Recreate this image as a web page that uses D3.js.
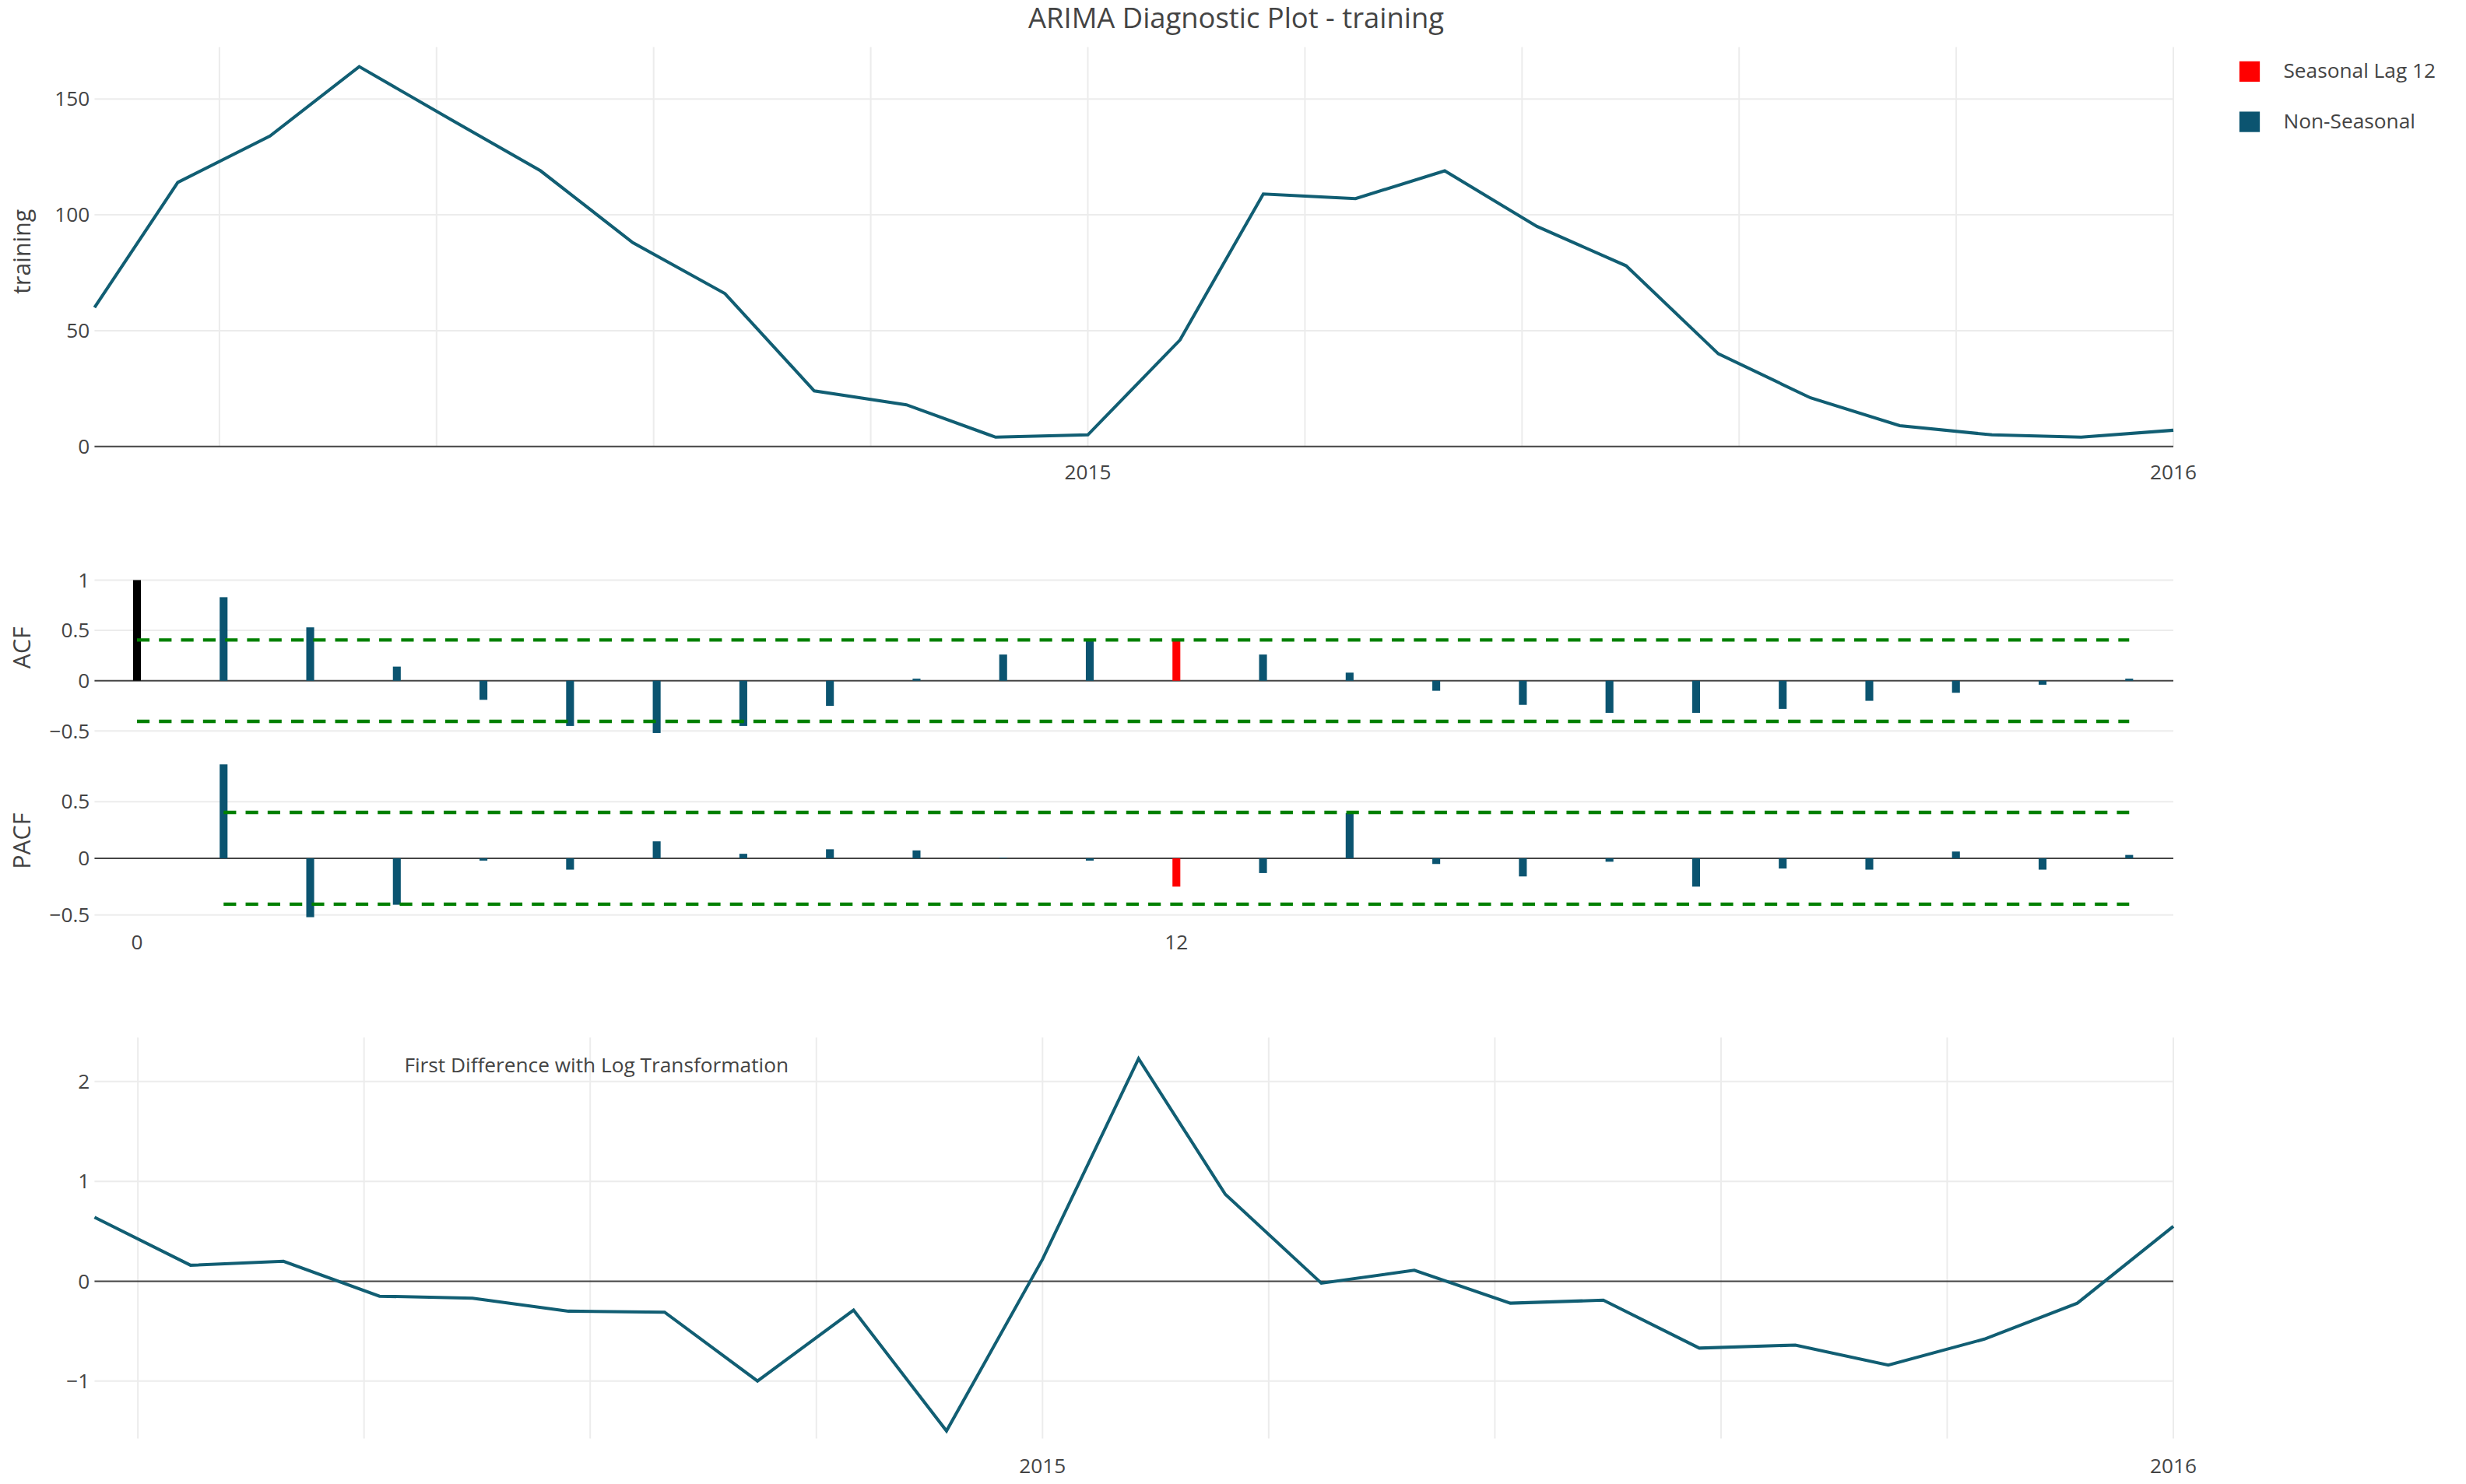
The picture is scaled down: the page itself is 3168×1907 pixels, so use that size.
<!doctype html>
<html>
<head>
<meta charset="utf-8">
<script src="https://cdn.jsdelivr.net/npm/d3@7"></script>
<style>
  body { margin: 0; background: #fff; }
  text { font-family: "Open Sans", "DejaVu Sans", sans-serif; fill: #444; }
</style>
</head>
<body>
<svg id="chart" width="3168" height="1907" viewBox="0 0 1568 944"></svg>
<script>
// data
var trainingValues = [60, 114, 134, 164, 141, 119, 88, 66, 24, 18, 4, 5,
                      46, 109, 107, 119, 95, 78, 40, 21, 9, 5, 4, 7];
var acfValues = [1, 0.83, 0.53, 0.14, -0.19, -0.45, -0.52, -0.45, -0.25, 0.02, 0.26, 0.41,
                 0.40, 0.26, 0.08, -0.10, -0.24, -0.32, -0.32, -0.28, -0.20, -0.12, -0.04, 0.02];
var pacfValues = [null, 0.83, -0.52, -0.41, -0.02, -0.10, 0.15, 0.04, 0.08, 0.07, 0.005, -0.02,
                  -0.25, -0.13, 0.40, -0.05, -0.16, -0.03, -0.25, -0.09, -0.10, 0.06, -0.10, 0.03];
var diffValues = [0.64, 0.16, 0.20, -0.15, -0.17, -0.30, -0.31, -1.0, -0.29, -1.5, 0.22, 2.23,
                  0.87, -0.02, 0.11, -0.22, -0.19, -0.67, -0.64, -0.84, -0.58, -0.22, 0.55];
var confBand = 0.405;
var seasonalLag = 12;
var legendItems = [{ label: "Seasonal Lag 12", color: "red" }, { label: "Non-Seasonal", color: "#0b5470" }];

var lineColor = "#115e73", barColor = "#0b5470", gridColor = "#ececec";
var svg = d3.select("#chart");
var left = 60, right = 1382;

var trainDates = trainingValues.map(function(d, i) { return new Date(2014, 1 + i, 1); });
var diffDates = diffValues.map(function(d, i) { return new Date(2014, 2 + i, 1); });

svg.append("text").attr("x", 786).attr("y", 18).attr("text-anchor", "middle")
  .style("font-size", "18px").text("ARIMA Diagnostic Plot - training");

function dateGrid(g, x, y0, y1, stepDays) {
  var ticks = [];
  var d = new Date(2016, 0, 1);
  while (d >= x.domain()[0]) { ticks.push(d); d = d3.timeDay.offset(d, -stepDays); }
  g.selectAll(".vg").data(ticks).enter().append("line")
    .attr("x1", x).attr("x2", x).attr("y1", y0).attr("y2", y1)
    .attr("stroke", gridColor);
}

function yAxis(g, y, ticks, fmt) {
  g.selectAll(".hg").data(ticks).enter().append("line")
    .attr("x1", left).attr("x2", right).attr("y1", y).attr("y2", y)
    .attr("stroke", d => d === 0 ? "#444" : gridColor);
  g.selectAll(".yl").data(ticks).enter().append("text")
    .attr("x", left - 3).attr("y", y).attr("dy", "0.35em").attr("text-anchor", "end")
    .style("font-size", "13px").text(fmt);
}

function yTitle(text, cy) {
  svg.append("text").attr("transform", "translate(19," + cy + ") rotate(-90)")
    .attr("text-anchor", "middle").style("font-size", "15px").text(text);
}

var minus = d => d < 0 ? "\u2212" + Math.abs(d) : String(d);

// panel 1: training series
var x1 = d3.scaleTime().domain([trainDates[0], trainDates[23]]).range([left, right]);
var y1 = d3.scaleLinear().domain([0, 150]).range([284, 63]);
var g1 = svg.append("g");
dateGrid(g1, x1, 30, 284, 73);
yAxis(g1, y1, [0, 50, 100, 150], minus);
g1.append("path").datum(trainingValues)
  .attr("d", d3.line().x((d, i) => x1(trainDates[i])).y(d => y1(d)))
  .attr("fill", "none").attr("stroke", lineColor).attr("stroke-width", 2);
[new Date(2015, 0, 1), new Date(2016, 0, 1)].forEach(function(d) {
  g1.append("text").attr("x", x1(d)).attr("y", 305).attr("text-anchor", "middle")
    .style("font-size", "13px").text(d.getFullYear());
});
yTitle("training", 160);

// panel 2/3: ACF & PACF
var xl = d3.scaleLinear().domain([0, 12]).range([87, 748]);
function corrPanel(values, y, ticks, startLag) {
  var g = svg.append("g");
  yAxis(g, y, ticks, minus);
  var data = values.map((v, i) => ({ lag: i, v: v })).filter(d => d.v !== null);
  g.selectAll(".bar").data(data).enter().append("rect")
    .attr("x", d => xl(d.lag) - 2.5).attr("width", 5)
    .attr("y", d => y(Math.max(0, d.v))).attr("height", d => Math.abs(y(d.v) - y(0)))
    .attr("fill", d => d.lag === 0 ? "#000" : d.lag === seasonalLag ? "red" : barColor);
  [confBand, -confBand].forEach(function(c) {
    g.append("line").attr("x1", xl(startLag)).attr("x2", xl(values.length - 1))
      .attr("y1", y(c)).attr("y2", y(c))
      .attr("stroke", "green").attr("stroke-width", 2.2).attr("stroke-dasharray", "8,6");
  });
}
var yAcf = d3.scaleLinear().domain([0, 1]).range([433, 369]);
corrPanel(acfValues, yAcf, [-0.5, 0, 0.5, 1], 0);
yTitle("ACF", 412);
var yPacf = d3.scaleLinear().domain([0, 0.5]).range([546, 510]);
corrPanel(pacfValues, yPacf, [-0.5, 0, 0.5], 1);
yTitle("PACF", 535);
[0, 12].forEach(function(l) {
  svg.append("text").attr("x", xl(l)).attr("y", 604).attr("text-anchor", "middle")
    .style("font-size", "13px").text(l);
});

// panel 4: first difference
var x3 = d3.scaleTime().domain([diffDates[0], diffDates[diffDates.length - 1]]).range([left, right]);
var y3 = d3.scaleLinear().domain([0, 1]).range([815, 751.5]);
var g3 = svg.append("g");
dateGrid(g3, x3, 660, 915, 73);
yAxis(g3, y3, [-1, 0, 1, 2], minus);
g3.append("path").datum(diffValues)
  .attr("d", d3.line().x((d, i) => x3(diffDates[i])).y(d => y3(d)))
  .attr("fill", "none").attr("stroke", lineColor).attr("stroke-width", 2);
[new Date(2015, 0, 1), new Date(2016, 0, 1)].forEach(function(d) {
  g3.append("text").attr("x", x3(d)).attr("y", 937).attr("text-anchor", "middle")
    .style("font-size", "13px").text(d.getFullYear());
});
g3.append("text").attr("x", 257).attr("y", 682).style("font-size", "13px")
  .text("First Difference with Log Transformation");

// legend
var lg = svg.append("g").selectAll("g").data(legendItems).enter().append("g")
  .attr("transform", (d, i) => "translate(1424," + (45 + i * 32) + ")");
lg.append("rect").attr("x", 0).attr("y", -6).attr("width", 13).attr("height", 13).attr("fill", d => d.color);
lg.append("text").attr("x", 28).attr("dy", "0.35em").style("font-size", "13px").text(d => d.label);
</script>
</body>
</html>
